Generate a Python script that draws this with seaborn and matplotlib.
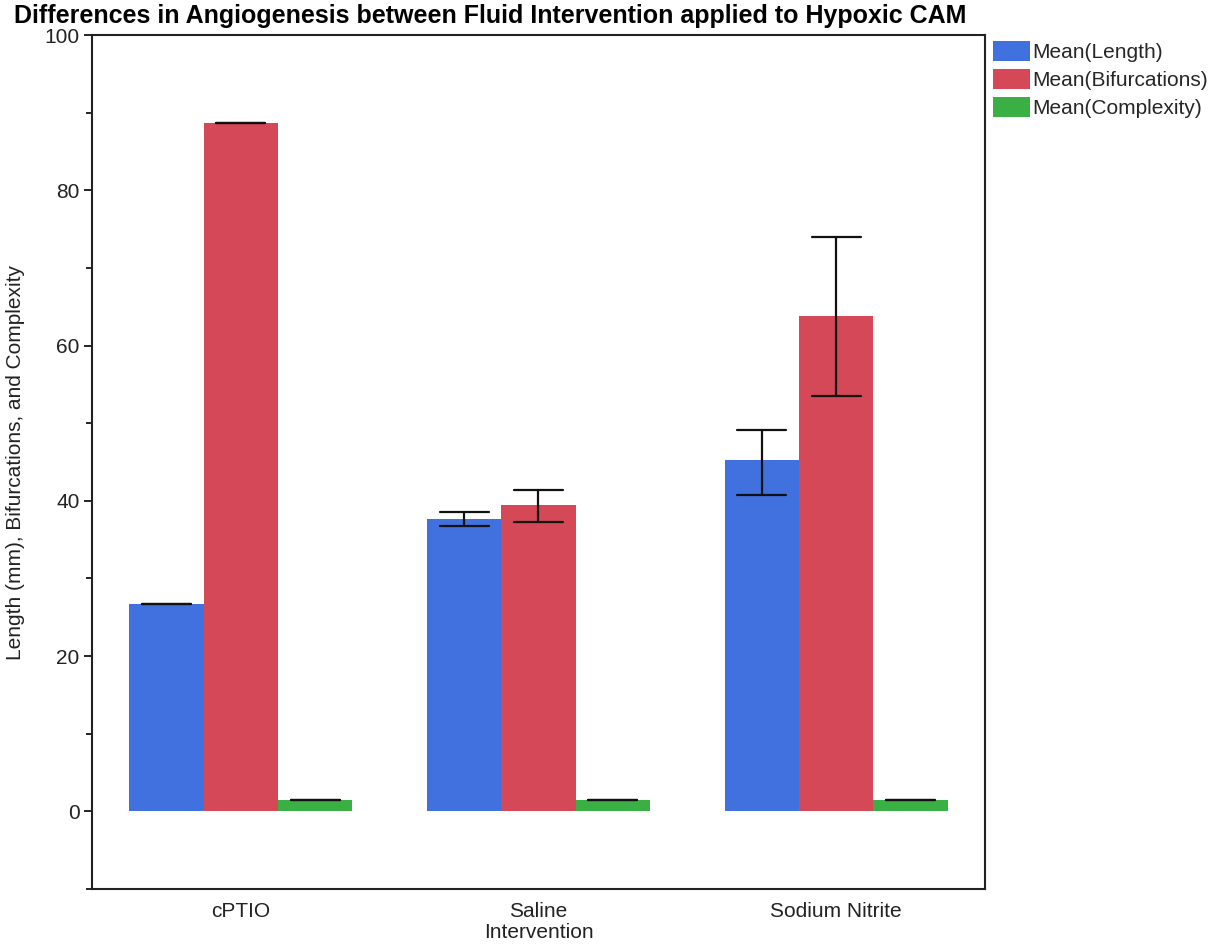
import numpy as np
import pandas as pd
import matplotlib
matplotlib.use("Agg")
import matplotlib.pyplot as plt
from matplotlib.ticker import MultipleLocator
from matplotlib.patches import Patch
import seaborn as sns

categories = ["cPTIO", "Saline", "Sodium Nitrite"]
measures = ["Mean(Length)", "Mean(Bifurcations)", "Mean(Complexity)"]

length_mean = [26.7, 37.7, 45.2]
length_lo = [26.7, 36.7, 40.8]
length_hi = [26.7, 38.6, 49.1]

bif_mean = [88.7, 39.4, 63.8]
bif_lo = [88.7, 37.3, 53.5]
bif_hi = [88.7, 41.4, 74.0]

cx_mean = [1.45, 1.45, 1.45]
cx_lo = [1.45, 1.45, 1.45]
cx_hi = [1.45, 1.45, 1.45]

colors = ["#4171DE", "#D54858", "#3AB044"]

sns.set_theme(style="white")
plt.rcParams["font.family"] = ["Liberation Sans", "DejaVu Sans"]

df = pd.DataFrame({
    "Intervention": categories * 3,
    "measure": [m for m in measures for _ in categories],
    "value": length_mean + bif_mean + cx_mean,
})
lows = [length_lo, bif_lo, cx_lo]
highs = [length_hi, bif_hi, cx_hi]

fig = plt.figure(figsize=(12.19, 9.49), dpi=100)
ax = fig.add_axes([0.0755, 0.0632, 0.7325, 0.8999])

sns.barplot(data=df, x="Intervention", y="value", hue="measure",
            order=categories, hue_order=measures, palette=colors,
            errorbar=None, width=0.75, saturation=1, linewidth=0,
            legend=False, ax=ax)

# error bars centred on each bar
for container, lo, hi in zip(ax.containers, lows, highs):
    for bar, l, h in zip(container, lo, hi):
        xc = bar.get_x() + bar.get_width() / 2
        half = bar.get_width() * 0.33
        ax.plot([xc, xc], [l, h], color="#111111", lw=1.6, zorder=3)
        ax.plot([xc - half, xc + half], [l, l], color="#111111", lw=1.6, zorder=3)
        ax.plot([xc - half, xc + half], [h, h], color="#111111", lw=1.6, zorder=3)

ax.set_xlim(-0.5, 2.5)
ax.set_ylim(-10, 100)
ax.yaxis.set_major_locator(MultipleLocator(20))
ax.yaxis.set_minor_locator(MultipleLocator(10))
ax.tick_params(axis="y", which="major", direction="out", length=6, width=1.2,
               color="black", labelsize=15, labelcolor="#222222", left=True, pad=3)
ax.tick_params(axis="y", which="minor", direction="out", length=4, width=1.2,
               color="black", left=True)
ax.tick_params(axis="x", length=0, labelsize=15, labelcolor="#222222", pad=9)
for s in ax.spines.values():
    s.set_color("#222222")
    s.set_linewidth(1.5)

ax.set_xlabel("Intervention", fontsize=15, color="#222222", labelpad=2)
ax.set_ylabel("Length (mm), Bifurcations, and Complexity", fontsize=15,
              color="#222222", labelpad=14)

fig.text(14 / 1219, 1 - 23 / 949, "Differences in Angiogenesis between Fluid Intervention applied to Hypoxic CAM",
         fontsize=18, fontweight="bold", color="black", ha="left", va="baseline")

handles = [Patch(facecolor=c, edgecolor="none") for c in colors]
fig.legend(handles, measures, loc="upper left", bbox_to_anchor=(993 / 1219, 1 - 41 / 949),
           frameon=False, fontsize=15, handlelength=1.78, handleheight=1.1,
           handletextpad=0.12, labelspacing=0.34, borderaxespad=0, borderpad=0)

fig.savefig("out.png", dpi=100)
